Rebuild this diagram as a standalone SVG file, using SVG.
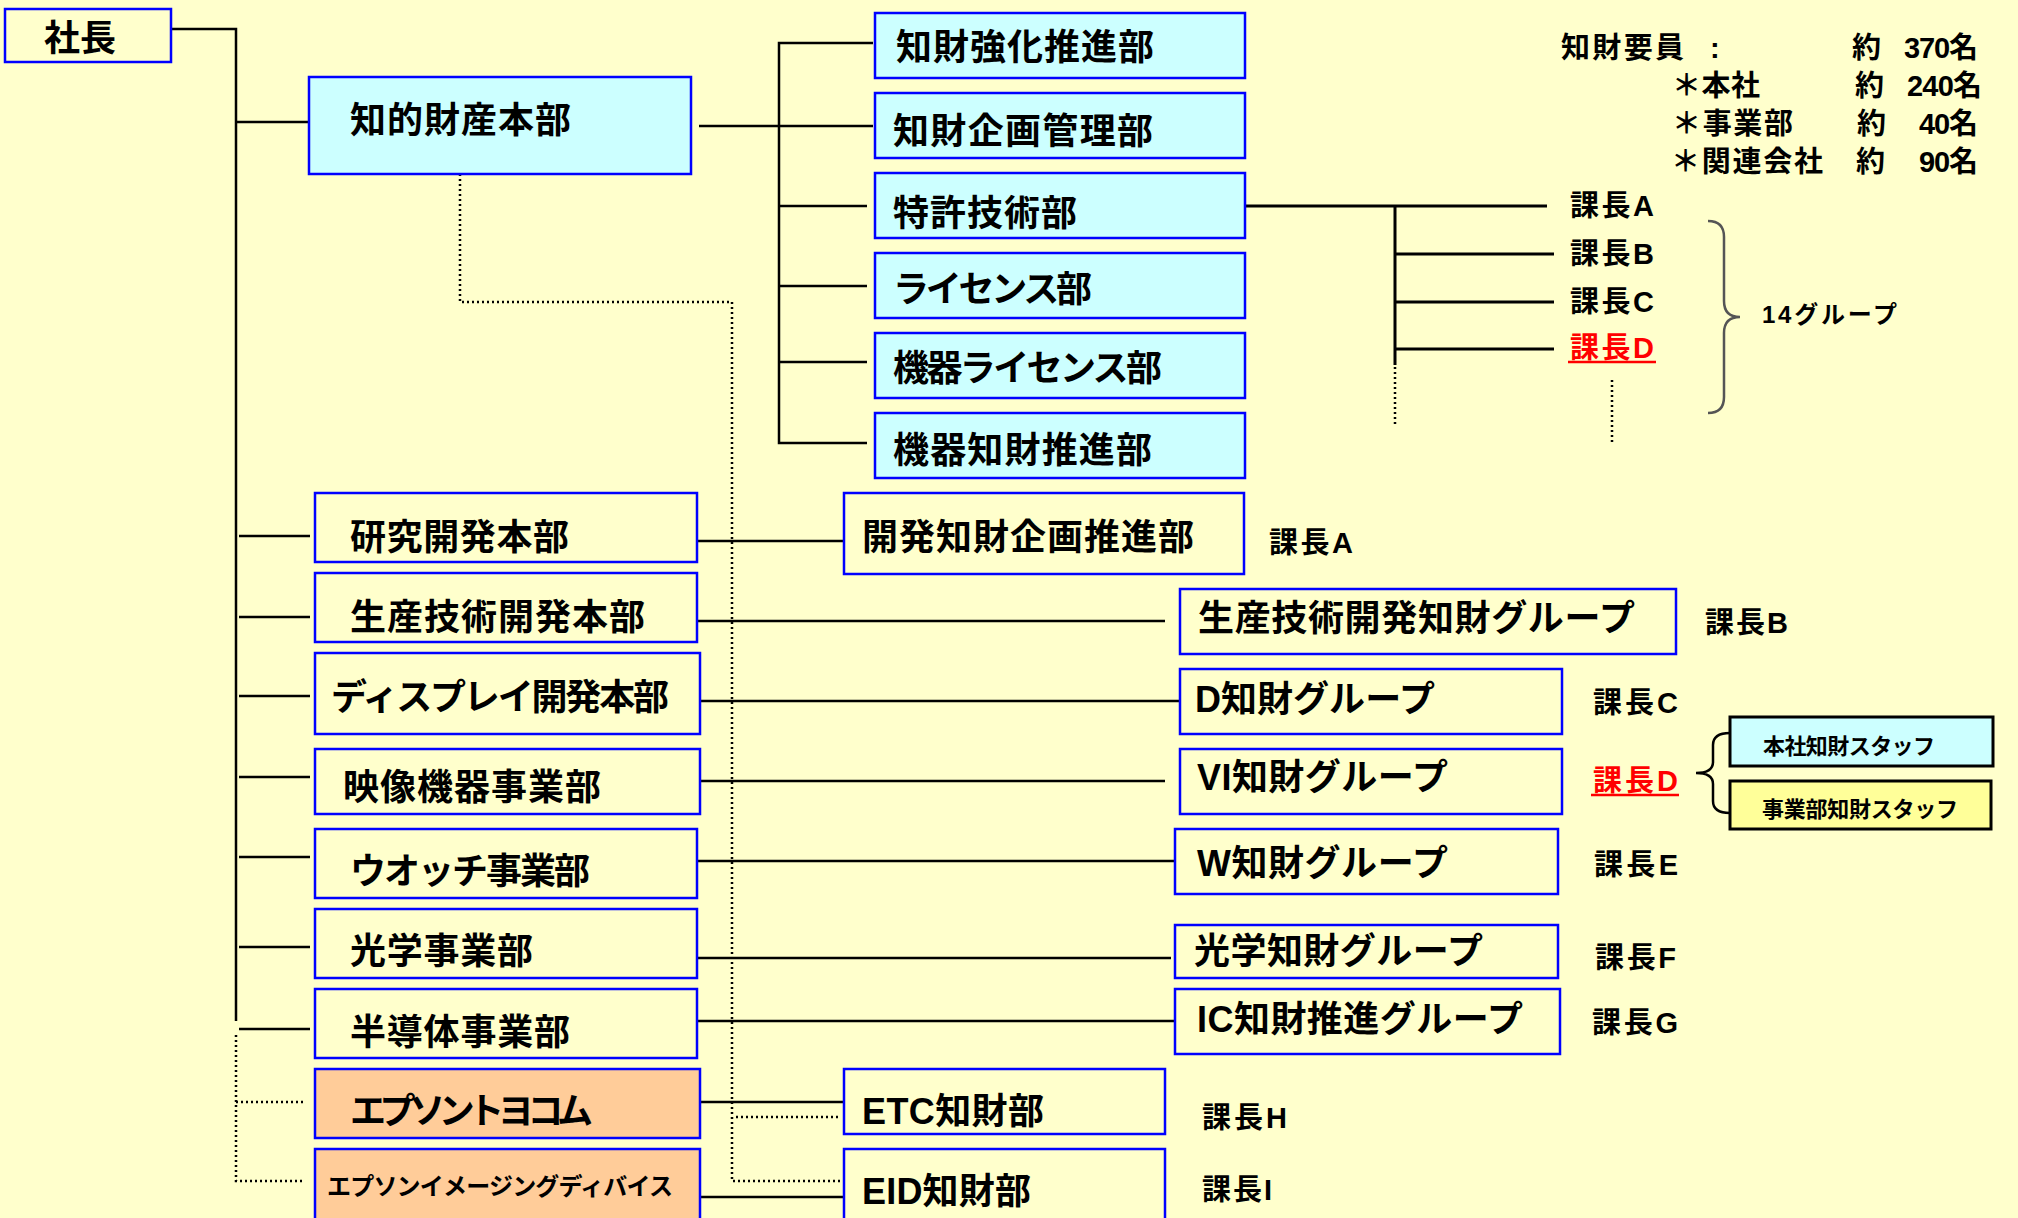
<svg xmlns="http://www.w3.org/2000/svg" width="2018" height="1218" viewBox="0 0 2018 1218">
<style>
.bg{fill:#FFFFCC}
.box{stroke:#0000FF;stroke-width:2.5}
.w{fill:#FFFFCC}
.c{fill:#CCFFFF}
.p{fill:#FFCC99}
.t{font-family:"Liberation Sans","Noto Sans CJK JP",sans-serif;font-weight:bold;fill:#000}
.f36{font-size:36px}
.f30{font-size:29px}
.f24{font-size:24px}
.f22{font-size:22px}
.red{fill:#FF0000}
.ln{fill:none;stroke:#000;stroke-width:2.5}
.ln3{fill:none;stroke:#000;stroke-width:3}
.dot{fill:none;stroke:#000;stroke-width:2.5;stroke-dasharray:2 3}
</style>
<rect class="bg" x="0" y="0" width="2018" height="1218"/>

<g id="connectors">
  <path class="ln" d="M171,29 H236 V1021"/>
  <path class="ln" d="M236,122 H309"/>
  <path class="ln" d="M699,126 H873"/>
  <path class="ln" d="M873,43 H779 V443 H867"/>
  <path class="ln" d="M779,206 H867 M779,286 H867 M779,362 H867"/>
  <path class="ln3" d="M1245,206 H1547 M1395,206 V365 M1395,254 H1554 M1395,302 H1554 M1395,349 H1554"/>
  <path class="ln" d="M239,536 H310 M239,617 H310 M239,696 H310 M239,777 H310 M239,857 H310 M239,947 H310 M239,1029 H310"/>
  <path class="ln" d="M697,541 H844 M697,621 H1165 M700,701 H1180 M700,781 H1165 M697,861 H1175 M697,958 H1171 M697,1021 H1175 M700,1102 H844 M700,1197 H844"/>
  <path class="dot" d="M460,174 V302 H732 V1181 H840"/>
  <path class="dot" d="M736,1117 H840"/>
  <path class="dot" d="M236,1035 V1181 H304 M236,1102 H304"/>
  <path class="dot" d="M1395,367 V427"/>
  <path class="dot" d="M1612,380 V442"/>
  <path fill="none" stroke="#555" stroke-width="2.5" d="M1708,221 Q1724,221 1724,237 L1724,301 Q1724,317 1740,317 Q1724,317 1724,333 L1724,397 Q1724,413 1708,413"/>
  <path fill="none" stroke="#000" stroke-width="2.5" d="M1730,733 Q1713,733 1713,745 L1713,762 Q1713,773 1696,773 Q1713,773 1713,784 L1713,801 Q1713,813 1730,813"/>
</g>

<g id="n-shacho"><rect class="box w" x="5" y="9" width="166" height="53"/><text class="t f36" x="44" y="51" textLength="72">社長</text></g>
<g id="n-chizai-honbu"><rect class="box c" x="309" y="77" width="382" height="97"/><text class="t f36" x="350" y="133" textLength="221">知的財産本部</text></g>

<g id="n-kyoka"><rect class="box c" x="875" y="13" width="370" height="65"/><text class="t f36" x="896" y="60" textLength="258">知財強化推進部</text></g>
<g id="n-kikaku"><rect class="box c" x="875" y="93" width="370" height="65"/><text class="t f36" x="893" y="144" textLength="260">知財企画管理部</text></g>
<g id="n-tokkyo"><rect class="box c" x="875" y="173" width="370" height="65"/><text class="t f36" x="893" y="226" textLength="184">特許技術部</text></g>
<g id="n-license"><rect class="box c" x="875" y="253" width="370" height="65"/><text class="t f36" x="893" y="302" textLength="199">ライセンス部</text></g>
<g id="n-kiki-license"><rect class="box c" x="875" y="333" width="370" height="65"/><text class="t f36" x="893" y="381" textLength="269">機器ライセンス部</text></g>
<g id="n-kiki-chizai"><rect class="box c" x="875" y="413" width="370" height="65"/><text class="t f36" x="893" y="463" textLength="259">機器知財推進部</text></g>

<g id="n-kenkyu"><rect class="box w" x="315" y="493" width="382" height="69"/><text class="t f36" x="350" y="550" textLength="219">研究開発本部</text></g>
<g id="n-seisan"><rect class="box w" x="315" y="573" width="382" height="69"/><text class="t f36" x="350" y="630" textLength="295">生産技術開発本部</text></g>
<g id="n-display"><rect class="box w" x="315" y="653" width="385" height="81"/><text class="t f36" x="331" y="710" textLength="338">ディスプレイ開発本部</text></g>
<g id="n-eizo"><rect class="box w" x="315" y="749" width="385" height="65"/><text class="t f36" x="343" y="800" textLength="258">映像機器事業部</text></g>
<g id="n-watch"><rect class="box w" x="315" y="829" width="382" height="69"/><text class="t f36" x="350" y="884" textLength="240">ウオッチ事業部</text></g>
<g id="n-kogaku"><rect class="box w" x="315" y="909" width="382" height="69"/><text class="t f36" x="350" y="964" textLength="183">光学事業部</text></g>
<g id="n-handotai"><rect class="box w" x="315" y="989" width="382" height="69"/><text class="t f36" x="350" y="1045" textLength="220">半導体事業部</text></g>
<g id="n-toyocom"><rect class="box p" x="315" y="1069" width="385" height="69"/><text class="t f36" x="350" y="1124" textLength="243">エプソントヨコム</text></g>
<g id="n-eid"><rect class="box p" x="315" y="1149" width="385" height="80"/><text class="t f24" x="327" y="1195" textLength="346">エプソンイメージングディバイス</text></g>

<g id="n-kaihatsu-chizai"><rect class="box w" x="844" y="493" width="400" height="81"/><text class="t f36" x="862" y="550" textLength="332">開発知財企画推進部</text></g>
<g id="n-seisan-chizai"><rect class="box w" x="1180" y="589" width="496" height="65"/><text class="t f36" x="1198" y="631" textLength="437">生産技術開発知財グループ</text></g>
<g id="n-d-chizai"><rect class="box w" x="1180" y="669" width="382" height="65"/><text class="t f36" x="1195" y="712" textLength="240">D知財グループ</text></g>
<g id="n-vi-chizai"><rect class="box w" x="1180" y="749" width="382" height="65"/><text class="t f36" x="1197" y="790" textLength="251">VI知財グループ</text></g>
<g id="n-w-chizai"><rect class="box w" x="1175" y="829" width="383" height="65"/><text class="t f36" x="1197" y="876" textLength="251">W知財グループ</text></g>
<g id="n-kogaku-chizai"><rect class="box w" x="1175" y="925" width="383" height="53"/><text class="t f36" x="1194" y="964" textLength="289">光学知財グループ</text></g>
<g id="n-ic-chizai"><rect class="box w" x="1175" y="989" width="385" height="65"/><text class="t f36" x="1197" y="1032" textLength="326">IC知財推進グループ</text></g>
<g id="n-etc"><rect class="box w" x="844" y="1069" width="321" height="65"/><text class="t f36" x="862" y="1124" textLength="182">ETC知財部</text></g>
<g id="n-eid-chizai"><rect class="box w" x="844" y="1149" width="321" height="80"/><text class="t f36" x="862" y="1204" textLength="169">EID知財部</text></g>

<g id="n-honsha-staff"><rect fill="#CCFFFF" stroke="#000" stroke-width="3" x="1730" y="717" width="263" height="49"/><text class="t f22" x="1763" y="754" textLength="172">本社知財スタッフ</text></g>
<g id="n-jigyobu-staff"><rect fill="#FFFF99" stroke="#000" stroke-width="3" x="1730" y="781" width="261" height="48"/><text class="t f22" x="1762" y="817" textLength="196">事業部知財スタッフ</text></g>

<g id="labels">
  <text class="t f30" x="1570" y="216" textLength="84">課長A</text>
  <text class="t f30" x="1570" y="264" textLength="84">課長B</text>
  <text class="t f30" x="1570" y="312" textLength="84">課長C</text>
  <text class="t f30 red" x="1570" y="358" textLength="84">課長D</text>
  <line x1="1568" y1="362" x2="1656" y2="362" stroke="#FF0000" stroke-width="2.5"/>
  <text class="t f24" x="1762" y="323" textLength="135">14グループ</text>
  <text class="t f30" x="1269" y="553" textLength="84">課長A</text>
  <text class="t f30" x="1705" y="633" textLength="83">課長B</text>
  <text class="t f30" x="1593" y="713" textLength="85">課長C</text>
  <text class="t f30 red" x="1593" y="791" textLength="85">課長D</text>
  <line x1="1591" y1="795" x2="1679" y2="795" stroke="#FF0000" stroke-width="2.5"/>
  <text class="t f30" x="1594" y="875" textLength="84">課長E</text>
  <text class="t f30" x="1595" y="968" textLength="81">課長F</text>
  <text class="t f30" x="1592" y="1033" textLength="86">課長G</text>
  <text class="t f30" x="1202" y="1128" textLength="85">課長H</text>
  <text class="t f30" x="1202" y="1200" textLength="70">課長I</text>
</g>

<g id="summary">
  <text class="t f30" x="1561" y="58" textLength="123">知財要員</text>
  <text class="t f30" x="1710" y="58">:</text>
  <text class="t f30" x="1852" y="58">約</text>
  <text class="t f30" x="1904" y="58" textLength="74">370名</text>
  <text class="t f30" x="1672" y="96" textLength="88">＊本社</text>
  <text class="t f30" x="1855" y="96">約</text>
  <text class="t f30" x="1907" y="96" textLength="75">240名</text>
  <text class="t f30" x="1672" y="134" textLength="121">＊事業部</text>
  <text class="t f30" x="1857" y="134">約</text>
  <text class="t f30" x="1919" y="134" textLength="59">40名</text>
  <text class="t f30" x="1671" y="172" textLength="152">＊関連会社</text>
  <text class="t f30" x="1856" y="172">約</text>
  <text class="t f30" x="1919" y="172" textLength="59">90名</text>
</g>
</svg>
